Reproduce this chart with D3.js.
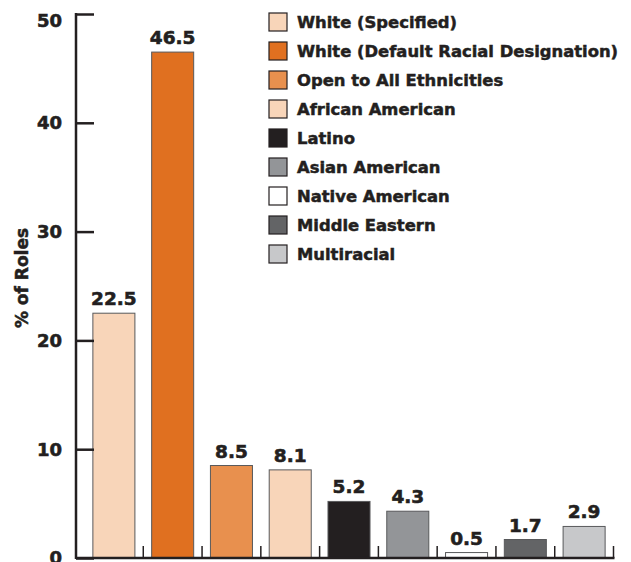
<!DOCTYPE html>
<html>
<head>
<meta charset="utf-8">
<script src="https://cdn.jsdelivr.net/npm/d3@7"></script>
<style>
  body { margin: 0; background: #fff; }
  svg { display: block; }
</style>
</head>
<body>
<div id="chart"></div>
<script>
// data
var categories = ["White (Specified)", "White (Default Racial Designation)", "Open to All Ethnicities",
    "African American", "Latino", "Asian American", "Native American", "Middle Eastern", "Multiracial"];
var values = [22.5, 46.5, 8.5, 8.1, 5.2, 4.3, 0.5, 1.7, 2.9];
var colors = ["#f8d5b9", "#e07020", "#e8904e", "#f8d5b9", "#231f20", "#939598", "#ffffff", "#636466", "#c7c8ca"];
var yTicks = [0, 10, 20, 30, 40, 50];

var width = 631, height = 562;
var fontFam = "'DejaVu Sans', sans-serif";
var ink = "#231f20";

var svg = d3.select("#chart").append("svg")
    .attr("width", width)
    .attr("height", height);

var y = d3.scaleLinear().domain([0, 50]).range([558, 14]);
var x = d3.scaleBand().domain(categories).range([84.5, 613.5]).padding(0);
var barW = x.bandwidth() * 0.715;

// bars
svg.selectAll("rect.bar")
    .data(values)
    .enter()
    .append("rect")
    .attr("class", "bar")
    .attr("x", function (d, i) { return x(categories[i]) + (x.bandwidth() - barW) / 2; })
    .attr("y", function (d) { return y(d); })
    .attr("width", barW)
    .attr("height", function (d) { return y(0) - y(d); })
    .attr("fill", function (d, i) { return colors[i]; })
    .attr("stroke", "#58595b")
    .attr("stroke-width", 1);

// value labels (thin stroke to get a heavier weight)
svg.selectAll("text.val")
    .data(values)
    .enter()
    .append("text")
    .attr("class", "val")
    .attr("x", function (d, i) { return x(categories[i]) + x.bandwidth() / 2; })
    .attr("y", function (d) { return y(d) - 8; })
    .attr("text-anchor", "middle")
    .attr("font-family", fontFam)
    .attr("font-weight", "bold")
    .attr("font-size", "18.5px")
    .attr("fill", ink)
    .attr("stroke", ink)
    .attr("stroke-width", 0.6)
    .text(function (d) { return d.toFixed(1); });

// y axis, ticks pointing inward
var yAxis = d3.axisRight(y).tickValues(yTicks).tickSize(18).tickFormat("");
var gy = svg.append("g").attr("transform", "translate(76,0)").call(yAxis);
gy.select(".domain").attr("stroke", ink).attr("stroke-width", 2.5).attr("d", "M0," + (y(50) - 1) + "V" + (y(0) + 1));
gy.selectAll(".tick line").attr("stroke", ink).attr("stroke-width", 2.5);

svg.selectAll("text.ytick")
    .data(yTicks)
    .enter()
    .append("text")
    .attr("class", "ytick")
    .attr("x", 62)
    .attr("y", function (d) { return Math.max(y(d), y(50) + 6.5); })
    .attr("dy", "0.36em")
    .attr("text-anchor", "end")
    .attr("font-family", fontFam)
    .attr("font-weight", "bold")
    .attr("font-size", "18px")
    .attr("fill", ink)
    .attr("stroke", ink)
    .attr("stroke-width", 0.6)
    .text(function (d) { return d; });

// x axis with small separator ticks
var xEdges = categories.map(function (c) { return x(c) + x.bandwidth(); });
svg.append("line")
    .attr("x1", 76).attr("x2", xEdges[xEdges.length - 1] + 1)
    .attr("y1", y(0)).attr("y2", y(0))
    .attr("stroke", ink).attr("stroke-width", 2.5);
svg.selectAll("line.xtick")
    .data(xEdges)
    .enter()
    .append("line")
    .attr("class", "xtick")
    .attr("x1", function (d) { return d; })
    .attr("x2", function (d) { return d; })
    .attr("y1", y(0))
    .attr("y2", y(0) - 12)
    .attr("stroke", ink)
    .attr("stroke-width", 1.5);

// y axis title
svg.append("text")
    .attr("transform", "translate(28,278) rotate(-90)")
    .attr("text-anchor", "middle")
    .attr("font-family", fontFam)
    .attr("font-weight", "bold")
    .attr("font-size", "17px")
    .attr("fill", ink)
    .attr("stroke", ink)
    .attr("stroke-width", 0.5)
    .text("% of Roles");

// legend
var legend = svg.selectAll("g.legend")
    .data(categories)
    .enter()
    .append("g")
    .attr("class", "legend")
    .attr("transform", function (d, i) { return "translate(269," + (22 + i * 29) + ")"; });

legend.append("rect")
    .attr("x", 0)
    .attr("y", -9)
    .attr("width", 18)
    .attr("height", 18)
    .attr("fill", function (d, i) { return colors[i]; })
    .attr("stroke", ink)
    .attr("stroke-width", 1.2);

legend.append("text")
    .attr("x", 28)
    .attr("y", 0)
    .attr("dy", "0.36em")
    .attr("font-family", fontFam)
    .attr("font-weight", "bold")
    .attr("font-size", "16.4px")
    .attr("fill", ink)
    .attr("stroke", ink)
    .attr("stroke-width", 0.5)
    .text(function (d) { return d; });
</script>
</body>
</html>
